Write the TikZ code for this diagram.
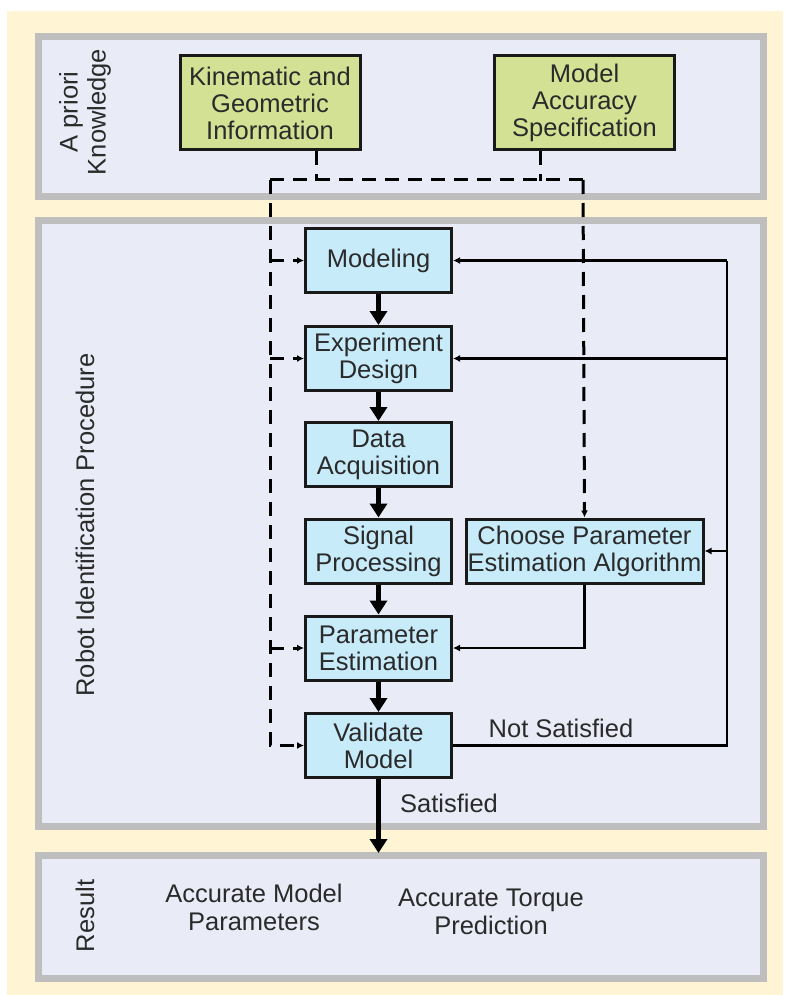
\documentclass[tikz,border=0pt]{standalone}
\usepackage{fontspec}
\setmainfont{Liberation Sans}
\usepackage{tikz}
\usetikzlibrary{arrows.meta}
\definecolor{cream}{HTML}{FFF5D4}
\definecolor{panelfill}{HTML}{E9ECF6}
\definecolor{panelgray}{HTML}{BEBEBE}
\definecolor{boxgreen}{HTML}{D3E195}
\definecolor{boxblue}{HTML}{C8EBF9}
\definecolor{ink}{HTML}{2A2A2A}

\tikzset{
  panel/.style={draw=panelgray,line width=7.5pt,fill=panelfill},
  basebox/.style={draw=black!90,line width=3pt,align=center,inner sep=1pt,text=ink,
    font=\fontsize{25.5}{27}\selectfont},
  infobox/.style={basebox,fill=boxgreen,minimum width=180pt,minimum height=94pt},
  stepbox/.style={basebox,fill=boxblue,minimum width=146pt,minimum height=64pt},
  plaintext/.style={align=center,text=ink,font=\fontsize{25.5}{28}\selectfont},
  sidelabel/.style={plaintext,rotate=90},
  bigarrow/.style={line width=5pt,-{Triangle[length=14pt,width=17pt]}},
  thinline/.style={line width=2.6pt},
  thinarrow/.style={line width=2.6pt,-{Latex[length=7pt,width=7pt]}},
  dashline/.style={line width=3pt,dash pattern=on 14pt off 9pt},
  dasharrow/.style={dashline,-{Latex[length=7pt,width=7pt]}}
}

\begin{document}
\begin{tikzpicture}[x=1pt,y=-1pt]
    \useasboundingbox (0,0) rectangle (787,995);
    \fill [white] (0,0) rectangle (787,995);
    \fill [cream] (7,11) rectangle (783,995);

    \draw [panel] (38.5,36.5) rectangle (763.5,196.5);
    \draw [panel] (38.5,220.5) rectangle (763.5,826.5);
    \draw [panel] (38.5,855.5) rectangle (763.5,978.5);

    \node [sidelabel] (apriori) at (85,112) {A priori\\Knowledge};
    \node [sidelabel] (robot) at (85,525) {Robot Identification Procedure};
    \node [sidelabel] (result) at (85,916) {Result};

    \node [infobox] (kin) at (270,103) {Kinematic and\\Geometric\\Information};
    \node [infobox] (acc) at (584.5,103) {Model\\Accuracy\\Specification};

    \node [stepbox] (model) at (378.5,260.5) {Modeling};
    \node [stepbox] (design) at (378.5,358.5) {Experiment\\Design};
    \node [stepbox] (data) at (378.5,454.5) {Data\\Acquisition};
    \node [stepbox] (signal) at (378.5,551) {Signal\\Processing};
    \node [stepbox] (estim) at (378.5,648) {Parameter\\Estimation};
    \node [stepbox] (valid) at (378.5,745.5) {Validate\\Model};
    \node [stepbox,minimum width=237pt] (choose) at (584.5,551) {Choose Parameter\\Estimation Algorithm};

    \node [plaintext] (notsat) at (561,728) {Not Satisfied};
    \node [plaintext] (sat) at (449,803) {Satisfied};
    \node [plaintext] (params) at (254,907) {Accurate Model\\Parameters};
    \node [plaintext] (torque) at (491,912) {Accurate Torque\\Prediction};

    \draw [bigarrow] (model) -- (design);
    \draw [bigarrow] (design) -- (data);
    \draw [bigarrow] (data) -- (signal);
    \draw [bigarrow] (signal) -- (estim);
    \draw [bigarrow] (estim) -- (valid);
    \coordinate (res) at (378.5,853);
    \draw [bigarrow] (valid) -- (res);

    \coordinate (dl) at (270,180);
    \coordinate (dr) at (583,180);
    \draw [dashline] ([xshift=46pt]kin.south) -- ++(0,30);
    \draw [dashline] ([xshift=-44pt]acc.south) -- ++(0,30);
    \draw [dashline] (dl) -- (dr);
    \draw [dasharrow] (dl) |- (valid.west);
    \draw [dasharrow] (dl |- model) -- (model.west);
    \draw [dasharrow] (dl |- design) -- (design.west);
    \draw [dasharrow] (dl |- estim) -- (estim.west);
    \draw [dasharrow] (dr) -- (choose.north);

    \coordinate (fb) at (727,745.5);
    \draw [thinline] (valid.east) -- (fb) -- (fb |- model);
    \draw [thinarrow] (fb |- model) -- (model.east);
    \draw [thinarrow] (fb |- design) -- (design.east);
    \draw [thinarrow] (fb |- choose) -- (choose.east);
    \draw [thinarrow] (choose.south) |- (estim.east);
\end{tikzpicture}
\end{document}
